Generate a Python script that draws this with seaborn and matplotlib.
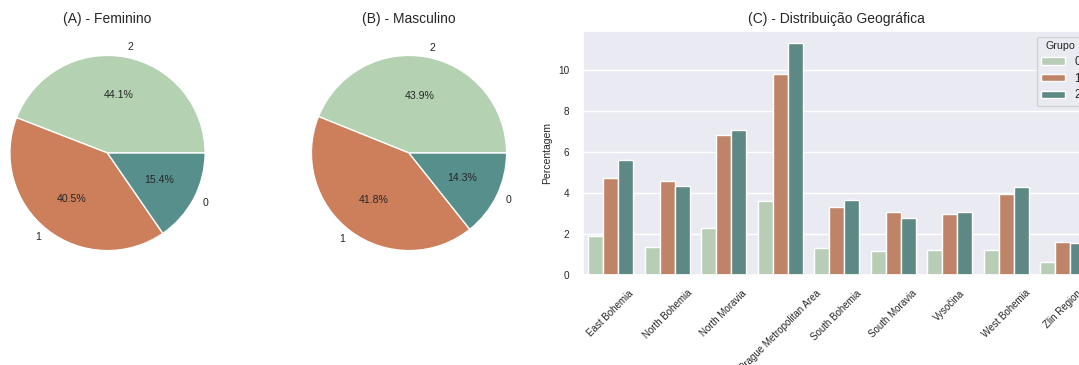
import matplotlib
matplotlib.use("Agg")
import matplotlib.pyplot as plt
import seaborn as sns
import pandas as pd

# ---- data ----
pie_labels = ["2", "1", "0"]
feminino = [44.1, 40.5, 15.4]
masculino = [43.9, 41.8, 14.3]

regions = ["East Bohemia", "North Bohemia", "North Moravia", "Prague Metropolitan Area",
           "South Bohemia", "South Moravia", "Vysočina", "West Bohemia", "Zlin Region"]
grupo0 = [1.90, 1.38, 2.32, 3.61, 1.30, 1.17, 1.23, 1.23, 0.63]
grupo1 = [4.75, 4.59, 6.82, 9.84, 3.32, 3.10, 3.00, 3.95, 1.62]
grupo2 = [5.64, 4.36, 7.07, 11.35, 3.68, 2.79, 3.10, 4.28, 1.56]
groups = ["0", "1", "2"]

palette = ["#b4d1b2", "#cd7e5a", "#568f8b"]

df = pd.DataFrame({
    "region": regions * 3,
    "Grupo": [g for g in groups for _ in regions],
    "pct": grupo0 + grupo1 + grupo2,
})

sns.set_theme(style="darkgrid")
plt.rcParams["font.family"] = ["Liberation Sans", "DejaVu Sans"]

W, H = 1079, 365
fig = plt.figure(figsize=(W / 100, H / 100), dpi=100)

top, bottom = 31, 275
def ax_px(left, width):
    return fig.add_axes([left / W, (H - bottom) / H, width / W, (bottom - top) / H])

pie_size = bottom - top
axA = ax_px(107.5 - pie_size / 2, pie_size)
axB = ax_px(409 - pie_size / 2, pie_size)
axC = ax_px(582.5, 508.5)

for ax, vals, title in [(axA, feminino, "(A) - Feminino"), (axB, masculino, "(B) - Masculino")]:
    ax.pie(vals, labels=pie_labels, colors=palette, autopct="%1.1f%%",
           textprops={"fontsize": 7.6})
    ax.set_title(title, fontsize=10)

sns.barplot(data=df, x="region", y="pct", hue="Grupo", palette=palette, ax=axC)
axC.set_title("(C) - Distribuição Geográfica", fontsize=10)
axC.set_xlabel("")
axC.set_ylabel("Percentagem", fontsize=7.5)
axC.tick_params(axis="x", labelsize=7.0, labelrotation=45)
axC.tick_params(axis="y", labelsize=7.2)
leg = axC.legend(title="Grupo", loc="upper right", fontsize=8.4, title_fontsize=7.7,
                 handleheight=0.6, labelspacing=0.4)

fig.savefig("out.png", dpi=100)
